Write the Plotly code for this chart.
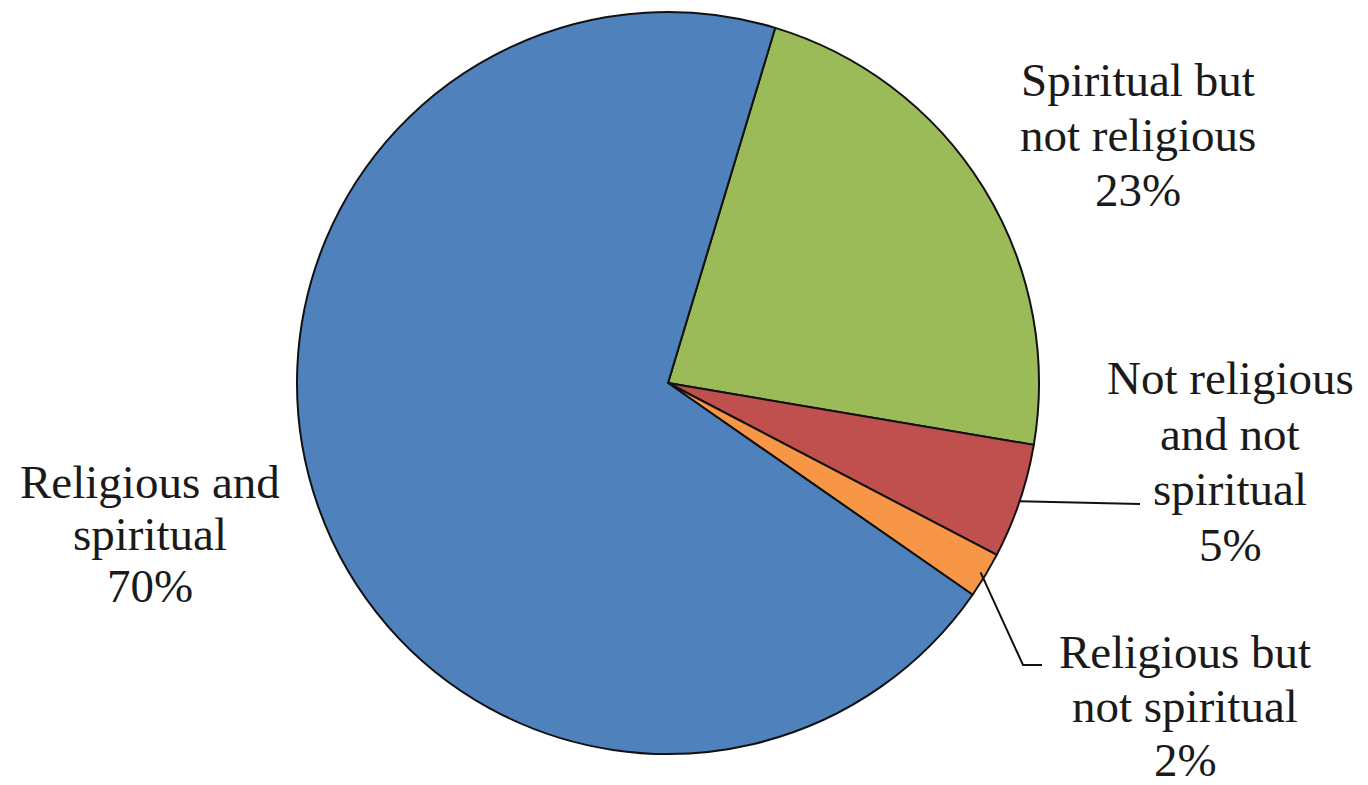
import math
import plotly.graph_objects as go

# ---- data ----
labels = ["Spiritual but not religious", "Not religious and not spiritual",
          "Religious but not spiritual", "Religious and spiritual"]
values = [23, 5, 2, 70]
label_lines = [["Spiritual but", "not religious"],
               ["Not religious", "and not", "spiritual"],
               ["Religious but", "not spiritual"],
               ["Religious and", "spiritual"]]
colors = ["#9BBB59", "#C0504D", "#F79646", "#4F81BD"]

# ---- layout constants ----
W, H = 1368, 785
CX, CY, R = 668, 383, 371
ROT = 16.8
# label block placement (center x, first-line y, line spacing) in pixels
label_pos = [(1138, 80, 55), (1230, 378, 55.5), (1185, 652, 54), (150, 482, 52)]
# leader-line elbows / ends per slice (None = no leader)
leader_ends = [None, [(1140, 504)], [(1023, 665), (1042, 665)], None]
leader_r = [None, 1.0, 0.985, None]

def px(x):
    return x / W

def py(y):
    return 1 - y / H

fig = go.Figure(go.Pie(
    labels=labels, values=values, sort=False, direction="clockwise",
    rotation=ROT, textinfo="none", hoverinfo="label+percent",
    marker=dict(colors=colors, line=dict(color="#111111", width=2)),
    domain=dict(x=[px(CX - R), px(CX + R)], y=[py(CY + R), py(CY - R)]),
    showlegend=False,
))

total = sum(values)
annotations = []
shapes = []
cum = 0
for i, v in enumerate(values):
    pct = f"{round(100 * v / total)}%"
    lines = label_lines[i] + [pct]
    cxl, y0, dy = label_pos[i]
    for k, t in enumerate(lines):
        annotations.append(dict(
            x=px(cxl), y=py(y0 + k * dy), xref="paper", yref="paper",
            text=t, showarrow=False, xanchor="center", yanchor="middle",
            font=dict(family="Liberation Serif", size=47, color="#1a1a1a")))
    mid = math.radians(ROT + 360 * (cum + v / 2) / total)
    cum += v
    if leader_ends[i]:
        rr = R * leader_r[i]
        sx = CX + rr * math.sin(mid)
        sy = CY - rr * math.cos(mid)
        pts = [(sx, sy)] + leader_ends[i]
        path = "M " + " L ".join(f"{px(a)},{py(b)}" for a, b in pts)
        shapes.append(dict(type="path", xref="paper", yref="paper", path=path,
                           line=dict(color="#111111", width=2)))

fig.update_layout(
    width=W, height=H, margin=dict(l=0, r=0, t=0, b=0),
    paper_bgcolor="white", plot_bgcolor="white",
    annotations=annotations, shapes=shapes,
)
fig.write_html("out.html", config={"displayModeBar": False},
               post_script="document.body.style.margin='0px';document.body.style.overflow='hidden';")
